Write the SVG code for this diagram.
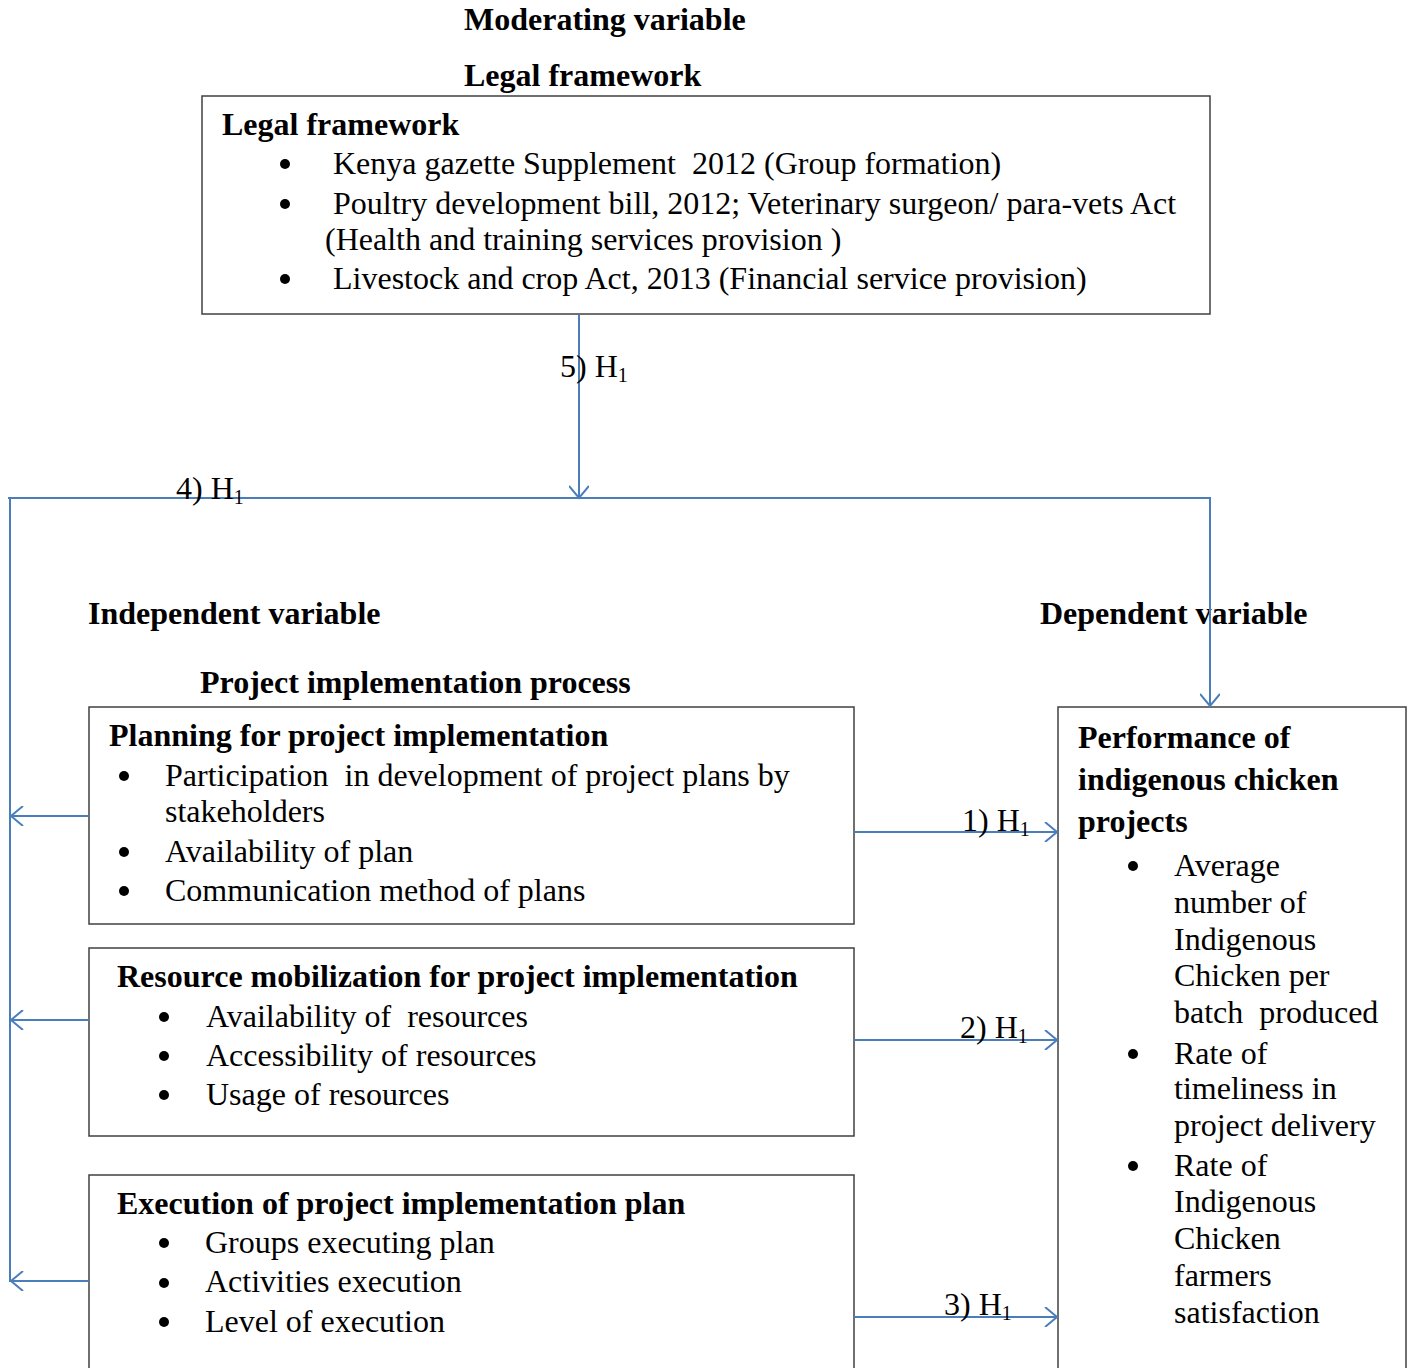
<svg xmlns="http://www.w3.org/2000/svg" width="1409" height="1368" viewBox="0 0 1409 1368">
<style>
text{font-family:"Liberation Serif","Times New Roman",serif;font-size:32px;fill:#000;white-space:pre}
.b{font-weight:bold}
.s{font-size:20px}
.box{fill:#fff;stroke:#404040;stroke-width:1.5}
.ln{fill:none;stroke:#4a7ebb;stroke-width:2}
.bul{fill:#000}
</style>
<defs>
<marker id="ah" viewBox="0 0 20 20" refX="18" refY="10" markerWidth="20" markerHeight="20" markerUnits="userSpaceOnUse" orient="auto">
<path d="M6,0 L18,10 L6,20" fill="none" stroke="#4a7ebb" stroke-width="2"/>
</marker>
</defs>
<rect width="1409" height="1368" fill="#fff"/>

<text class="b" x="464" y="30">Moderating variable</text>
<text class="b" x="464" y="86">Legal framework</text>

<g id="legal">
<rect class="box" x="202" y="96" width="1008" height="218"/>
<text class="b" x="222" y="135">Legal framework</text>
<circle class="bul" cx="285" cy="164" r="5"/>
<text x="333" y="174" xml:space="preserve">Kenya gazette Supplement  2012 (Group formation)</text>
<circle class="bul" cx="285" cy="204" r="5"/>
<text x="333" y="214">Poultry development bill, 2012; Veterinary surgeon/ para-vets Act</text>
<text x="325" y="250">(Health and training services provision )</text>
<circle class="bul" cx="285" cy="279" r="5"/>
<text x="333" y="289">Livestock and crop Act, 2013 (Financial service provision)</text>
</g>

<text class="b" x="88" y="624">Independent variable</text>
<text class="b" x="1040" y="624">Dependent variable</text>
<text class="b" x="200" y="693">Project implementation process</text>

<g id="planning">
<rect class="box" x="89" y="707" width="765" height="217"/>
<text class="b" x="109" y="746">Planning for project implementation</text>
<circle class="bul" cx="124" cy="776" r="5"/>
<text x="165" y="786" xml:space="preserve">Participation  in development of project plans by</text>
<text x="165" y="822">stakeholders</text>
<circle class="bul" cx="124" cy="852" r="5"/>
<text x="165" y="862">Availability of plan</text>
<circle class="bul" cx="124" cy="891" r="5"/>
<text x="165" y="901">Communication method of plans</text>
</g>

<g id="resource">
<rect class="box" x="89" y="948" width="765" height="188"/>
<text class="b" x="117" y="987">Resource mobilization for project implementation</text>
<circle class="bul" cx="164" cy="1017" r="5"/>
<text x="206" y="1027" xml:space="preserve">Availability of  resources</text>
<circle class="bul" cx="164" cy="1056" r="5"/>
<text x="206" y="1066">Accessibility of resources</text>
<circle class="bul" cx="164" cy="1095" r="5"/>
<text x="206" y="1105">Usage of resources</text>
</g>

<g id="execution">
<rect class="box" x="89" y="1175" width="765" height="220"/>
<text class="b" x="117" y="1214">Execution of project implementation plan</text>
<circle class="bul" cx="164" cy="1243" r="5"/>
<text x="205" y="1253">Groups executing plan</text>
<circle class="bul" cx="164" cy="1283" r="5"/>
<text x="205" y="1292">Activities execution</text>
<circle class="bul" cx="164" cy="1322" r="5"/>
<text x="205" y="1332">Level of execution</text>
</g>

<g id="performance">
<rect class="box" x="1058" y="707" width="348" height="700"/>
<text class="b" x="1078" y="748">Performance of</text>
<text class="b" x="1078" y="790">indigenous chicken</text>
<text class="b" x="1078" y="832">projects</text>
<circle class="bul" cx="1133" cy="866" r="5"/>
<text x="1174" y="876">Average</text>
<text x="1174" y="913">number of</text>
<text x="1174" y="950">Indigenous</text>
<text x="1174" y="986">Chicken per</text>
<text x="1174" y="1023" xml:space="preserve">batch  produced</text>
<circle class="bul" cx="1133" cy="1054" r="5"/>
<text x="1174" y="1064">Rate of</text>
<text x="1174" y="1099">timeliness in</text>
<text x="1174" y="1136">project delivery</text>
<circle class="bul" cx="1133" cy="1166" r="5"/>
<text x="1174" y="1176">Rate of</text>
<text x="1174" y="1212">Indigenous</text>
<text x="1174" y="1249">Chicken</text>
<text x="1174" y="1286">farmers</text>
<text x="1174" y="1323">satisfaction</text>
</g>

<g id="connectors">
<line class="ln" x1="579" y1="315" x2="579" y2="498" marker-end="url(#ah)"/>
<line class="ln" x1="8" y1="498" x2="1211" y2="498"/>
<line class="ln" x1="10" y1="498" x2="10" y2="1282"/>
<line class="ln" x1="1210" y1="498" x2="1210" y2="706" marker-end="url(#ah)"/>
<line class="ln" x1="89" y1="816" x2="11" y2="816" marker-end="url(#ah)"/>
<line class="ln" x1="89" y1="1020" x2="11" y2="1020" marker-end="url(#ah)"/>
<line class="ln" x1="89" y1="1281" x2="11" y2="1281" marker-end="url(#ah)"/>
<line class="ln" x1="854" y1="832" x2="1057" y2="832" marker-end="url(#ah)"/>
<line class="ln" x1="854" y1="1040" x2="1057" y2="1040" marker-end="url(#ah)"/>
<line class="ln" x1="854" y1="1317" x2="1057" y2="1317" marker-end="url(#ah)"/>
<text x="560" y="377">5) H<tspan class="s" dy="5">1</tspan></text>
<text x="176" y="499">4) H<tspan class="s" dy="5">1</tspan></text>
<text x="962" y="831">1) H<tspan class="s" dy="5">1</tspan></text>
<text x="960" y="1038">2) H<tspan class="s" dy="5">1</tspan></text>
<text x="944" y="1315">3) H<tspan class="s" dy="5">1</tspan></text>
</g>
</svg>
